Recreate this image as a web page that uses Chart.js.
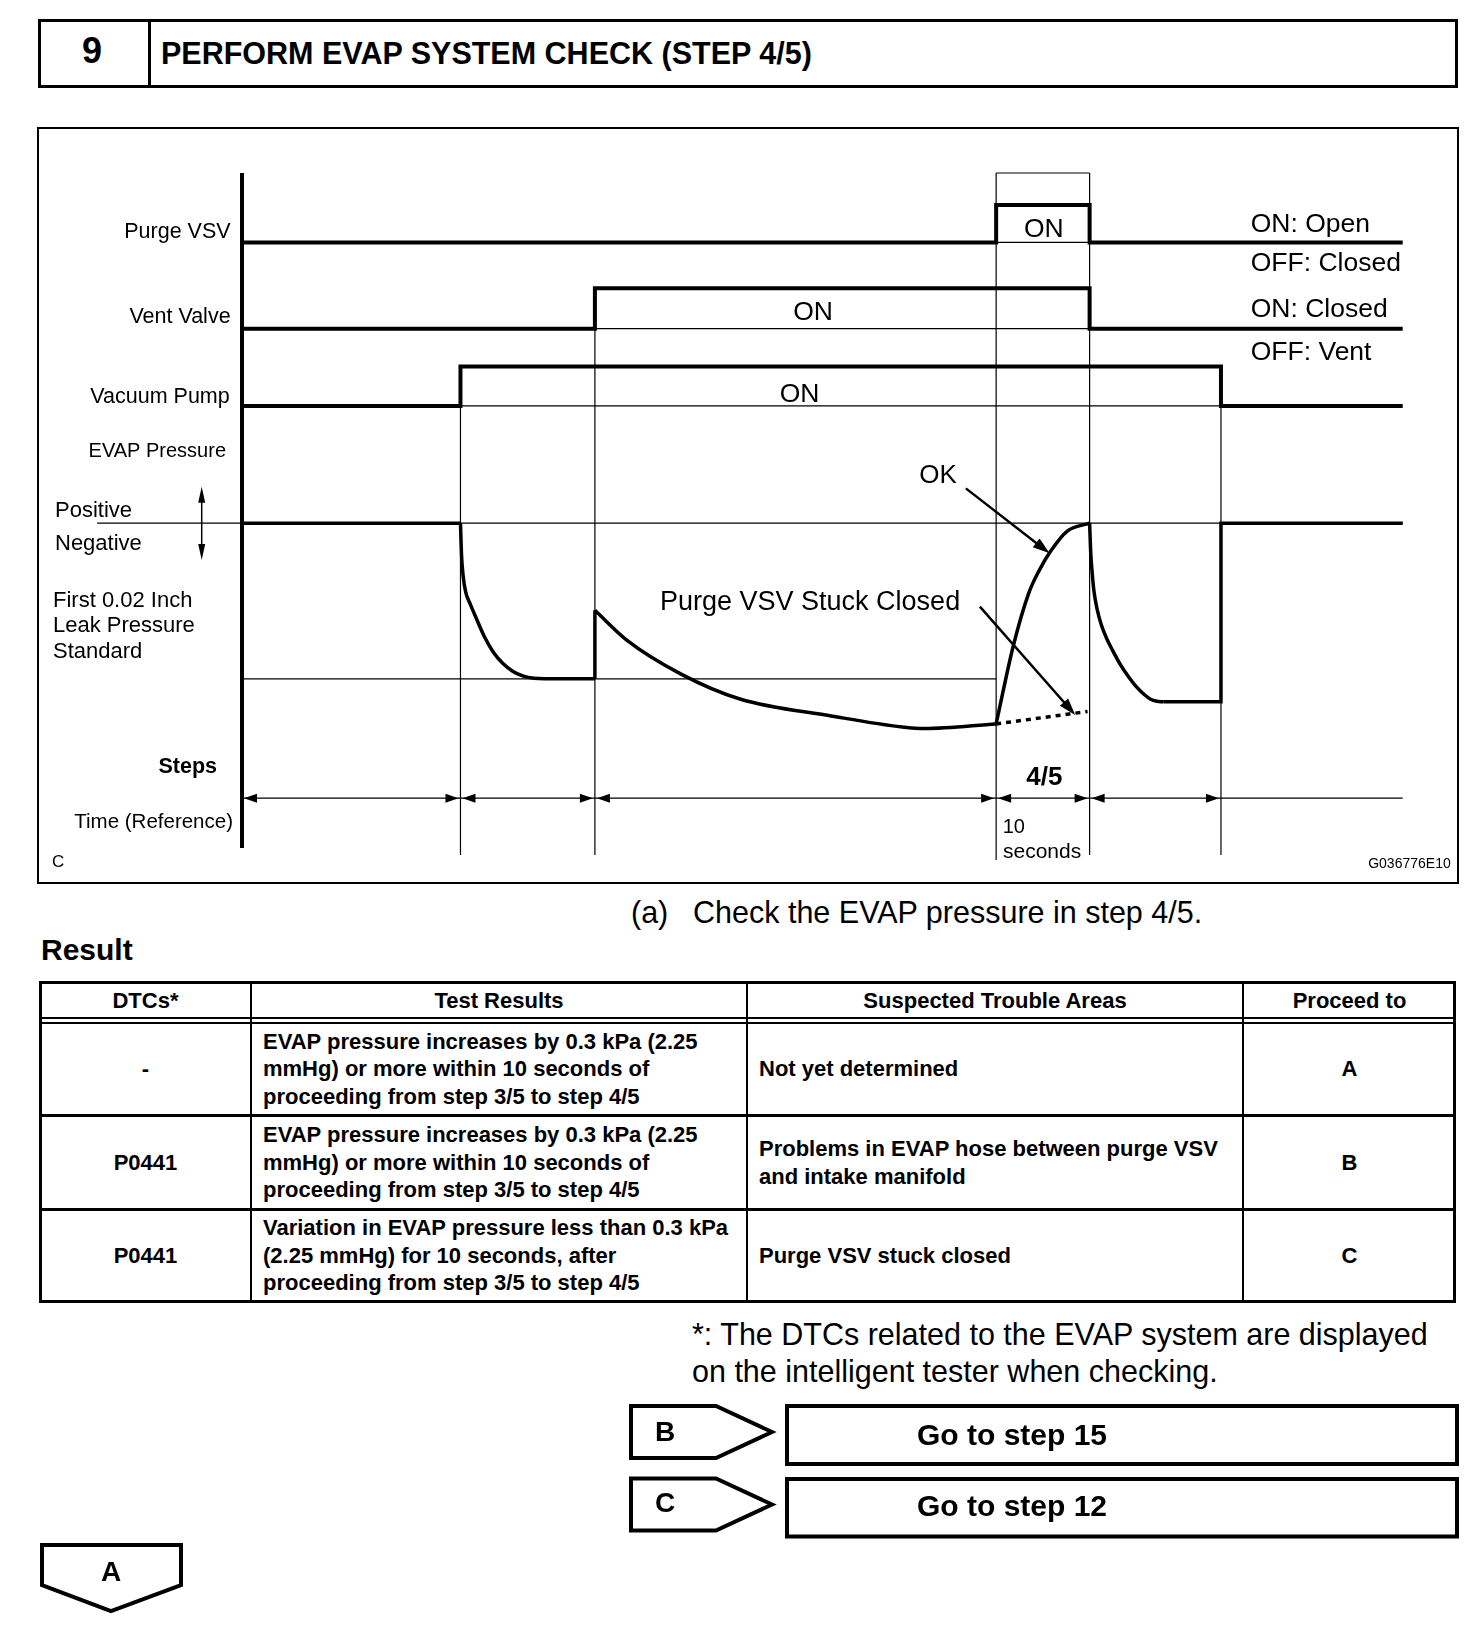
<!DOCTYPE html>
<html>
<head>
<meta charset="utf-8">
<script src="https://cdn.jsdelivr.net/npm/chart.js@4.4.1/dist/chart.umd.min.js"></script>
<style>
  body{margin:0;width:1472px;height:1648px;background:#fff;position:relative;overflow:hidden;
       font-family:"Liberation Sans",Arial,sans-serif;color:#000}
  .t{position:absolute;white-space:nowrap;line-height:1}
  .b{font-weight:bold}
  .ln{position:absolute;background:#000}
  .cell{position:absolute;display:flex;align-items:center;font-weight:bold;font-size:22px;
        line-height:27.5px;white-space:nowrap;box-sizing:border-box}
  .c{justify-content:center;text-align:center}
  .l{justify-content:flex-start;padding-left:11px}
  #box{position:absolute;left:37px;top:127px;width:1422px;height:757px;border:2px solid #000;box-sizing:border-box}
  #graf{position:absolute;left:37px;top:127px}
</style>
</head>
<body>

<!-- cabecera -->
<div style="position:absolute;left:38px;top:19px;width:1420px;height:69px;border:3px solid #000;box-sizing:border-box"></div>
<div class="ln" style="left:148px;top:19px;width:3px;height:69px"></div>
<div class="t b" style="left:42px;width:100px;text-align:center;top:33px;font-size:36px">9</div>
<div class="t b" style="left:161px;top:37.5px;font-size:30.5px">PERFORM EVAP SYSTEM CHECK (STEP 4/5)</div>

<!-- diagrama -->
<div id="box"></div>
<canvas id="graf" width="1422" height="757"></canvas>

<div class="t" style="left:631px;top:897px;font-size:30.5px">(a)</div>
<div class="t" style="left:693px;top:897px;font-size:30.5px">Check the EVAP pressure in step 4/5.</div>
<div class="t b" style="left:41px;top:935px;font-size:30px">Result</div>

<!-- tabla -->
<div style="position:absolute;left:39px;top:981px;width:1417px;height:322px;border:3px solid #000;box-sizing:border-box"></div>
<div class="ln" style="left:250px;top:981px;width:2px;height:322px"></div>
<div class="ln" style="left:746px;top:981px;width:2px;height:322px"></div>
<div class="ln" style="left:1242px;top:981px;width:2px;height:322px"></div>
<div class="ln" style="left:39px;top:1017px;width:1417px;height:2px"></div>
<div class="ln" style="left:39px;top:1022px;width:1417px;height:2px"></div>
<div class="ln" style="left:39px;top:1114px;width:1417px;height:3px"></div>
<div class="ln" style="left:39px;top:1208px;width:1417px;height:3px"></div>

<div class="cell c" style="left:41px;width:209px;top:983px;height:35px">DTCs*</div>
<div class="cell c" style="left:252px;width:494px;top:983px;height:35px">Test Results</div>
<div class="cell c" style="left:748px;width:494px;top:983px;height:35px">Suspected Trouble Areas</div>
<div class="cell c" style="left:1244px;width:211px;top:983px;height:35px">Proceed to</div>

<div class="cell c" style="left:41px;width:209px;top:1024px;height:90px">-</div>
<div class="cell l" style="left:252px;width:494px;top:1024px;height:90px">EVAP pressure increases by 0.3 kPa (2.25<br>mmHg) or more within 10 seconds of<br>proceeding from step 3/5 to step 4/5</div>
<div class="cell l" style="left:748px;width:494px;top:1024px;height:90px">Not yet determined</div>
<div class="cell c" style="left:1244px;width:211px;top:1024px;height:90px">A</div>

<div class="cell c" style="left:41px;width:209px;top:1117px;height:91px">P0441</div>
<div class="cell l" style="left:252px;width:494px;top:1117px;height:91px">EVAP pressure increases by 0.3 kPa (2.25<br>mmHg) or more within 10 seconds of<br>proceeding from step 3/5 to step 4/5</div>
<div class="cell l" style="left:748px;width:494px;top:1117px;height:91px">Problems in EVAP hose between purge VSV<br>and intake manifold</div>
<div class="cell c" style="left:1244px;width:211px;top:1117px;height:91px">B</div>

<div class="cell c" style="left:41px;width:209px;top:1211px;height:89px">P0441</div>
<div class="cell l" style="left:252px;width:494px;top:1211px;height:89px">Variation in EVAP pressure less than 0.3 kPa<br>(2.25 mmHg) for 10 seconds, after<br>proceeding from step 3/5 to step 4/5</div>
<div class="cell l" style="left:748px;width:494px;top:1211px;height:89px">Purge VSV stuck closed</div>
<div class="cell c" style="left:1244px;width:211px;top:1211px;height:89px">C</div>

<div class="t" style="left:692px;top:1319px;font-size:30.5px">*: The DTCs related to the EVAP system are displayed</div>
<div class="t" style="left:692px;top:1355.5px;font-size:30.5px">on the intelligent tester when checking.</div>

<!-- cajas de salto -->
<svg style="position:absolute;left:0;top:0" width="1472" height="1648">
  <g fill="none" stroke="#000" stroke-width="4" stroke-linejoin="miter">
    <polygon points="631,1406 716,1406 772,1432 716,1458 631,1458"/>
    <rect x="787" y="1406" width="670" height="58"/>
    <polygon points="631,1478.5 716,1478.5 772,1504.5 716,1530.5 631,1530.5"/>
    <rect x="787" y="1479" width="670" height="57.5"/>
    <polygon points="42,1545 181,1545 181,1585 111,1611 42,1585"/>
  </g>
</svg>
<div class="t b" style="left:655px;top:1418px;font-size:28px">B</div>
<div class="t b" style="left:917px;top:1420px;font-size:30px">Go to step 15</div>
<div class="t b" style="left:655px;top:1489px;font-size:28px">C</div>
<div class="t b" style="left:917px;top:1491px;font-size:30px">Go to step 12</div>
<div class="t b" style="left:61px;width:100px;text-align:center;top:1558px;font-size:28px">A</div>

<script>
// tiempos de cada paso (s, referencia): 10 s = paso 4/5
const stepTimes = [0, 23.37, 37.75, 80.67, 90.67, 104.72, 124.16];
// estado ON(1)/OFF(0) en cada intervalo
const purgeVsv   = [0, 0, 0, 1, 0, 0];
const ventValve  = [0, 0, 1, 1, 0, 0];
const vacuumPump = [0, 1, 1, 1, 1, 0];

// presion EVAP relativa (0 = atmosferica, -1 = estandar de fuga 0.02 in)
const pressT0 = [0, 23.37];
const pressP0 = [0, 0];
const pressT2 = [23.37, 23.48, 23.65, 23.93, 24.44, 25.06, 25.95, 26.85, 27.86, 28.99, 30.11, 31.24, 32.36, 37.75];
const pressP2 = [0, -0.201, -0.336, -0.443, -0.523, -0.611, -0.732, -0.826, -0.899, -0.953, -0.983, -0.997, -1.0, -1.0];
const jumpT = [37.75, 37.75];
const jumpP = [-1.0, -0.56];
const pressT3 = [37.75, 41.12, 46.97, 53.26, 63.15, 70.62, 73.03, 80.67];
const pressP3 = [-0.56, -0.75, -0.97, -1.13, -1.24, -1.31, -1.32, -1.29];
const okT = [80.67, 82.47, 84.15, 85.28, 86.51, 88.25, 90.67];
const okP = [-1.29, -0.797, -0.451, -0.303, -0.179, -0.052, 0];
const stuckT = [80.67, 90.45];
const stuckP = [-1.29, -1.21];
const pressT5 = [90.67, 90.78, 90.95, 91.12, 91.46, 91.91, 92.47, 93.14, 93.93, 94.83, 95.61, 96.51, 97.19, 97.86, 98.54];
const pressP5 = [0, -0.181, -0.322, -0.430, -0.550, -0.651, -0.738, -0.819, -0.906, -0.987, -1.047, -1.101, -1.131, -1.144, -1.148];
const pressT6 = [98.54, 104.72, 104.72, 124.16];
const pressP6 = [-1.148, -1.148, 0, 0];

// ubicacion vertical de cada fila del diagrama (unidades del eje y)
const lay = { top: 640, purge: 574, purgeH: 35.5, vent: 492, ventH: 38.5, pump: 418.5, pumpH: 37.5,
              pZero: 307, pUnit: 148, steps: 45.5, bottom: -8.6 };

const page = { x: 37, y: 127 };
const FONT = '"Liberation Sans", Arial, sans-serif';

function escalon(estados, base, alto) {
  const pts = estados.map((s, i) => ({ x: stepTimes[i], y: base + s * alto }));
  pts.push({ x: stepTimes[stepTimes.length - 1], y: base + estados[estados.length - 1] * alto });
  return pts;
}
function presion(ts, ps) {
  return ts.map((t, i) => ({ x: t, y: lay.pZero + ps[i] * lay.pUnit }));
}
function grueso(data, extra) {
  return Object.assign({ data: data, showLine: true, borderColor: '#000', borderWidth: 4, pointRadius: 0,
    clip: false, order: 1, borderJoinStyle: 'miter', borderCapStyle: 'butt' }, extra || {});
}
function fino(x1, y1, x2, y2) {
  return { data: [{ x: x1, y: y1 }, { x: x2, y: y2 }], showLine: true, borderColor: '#000', borderWidth: 1.2,
    pointRadius: 0, clip: false, order: 3 };
}

const tEnd = stepTimes[stepTimes.length - 1];
const curva = { cubicInterpolationMode: 'monotone', borderWidth: 3.5, borderJoinStyle: 'round' };
const recta = { borderWidth: 3.5 };

const datasets = [
  grueso(escalon(purgeVsv, lay.purge, lay.purgeH), { stepped: true }),
  grueso(escalon(ventValve, lay.vent, lay.ventH), { stepped: true }),
  grueso(escalon(vacuumPump, lay.pump, lay.pumpH), { stepped: true }),
  grueso([{ x: 0, y: -2 }, { x: 0, y: lay.top }], { borderWidth: 4 }),
  grueso(presion(pressT0, pressP0), recta),
  grueso(presion(pressT2, pressP2), curva),
  grueso(presion(jumpT, jumpP), recta),
  grueso(presion(pressT3, pressP3), curva),
  grueso(presion(okT, okP), curva),
  grueso(presion(stuckT, stuckP), { borderWidth: 3.5, borderDash: [5, 5] }),
  grueso(presion(pressT5, pressP5), curva),
  grueso(presion(pressT6, pressP6), recta),
  // lineas finas de referencia
  fino(-15.5, lay.pZero, tEnd, lay.pZero),
  fino(0, lay.pZero - lay.pUnit, stepTimes[3], lay.pZero - lay.pUnit),
  fino(stepTimes[3], lay.top, stepTimes[4], lay.top),
  fino(stepTimes[3], lay.purge, stepTimes[4], lay.purge),
  fino(stepTimes[2], lay.vent, stepTimes[4], lay.vent),
  fino(stepTimes[1], lay.pump, stepTimes[5], lay.pump),
  fino(stepTimes[1], lay.bottom, stepTimes[1], lay.pump + lay.pumpH),
  fino(stepTimes[2], lay.bottom, stepTimes[2], lay.vent + lay.ventH),
  fino(stepTimes[3], lay.bottom - 4.7, stepTimes[3], lay.top),
  fino(stepTimes[4], lay.bottom, stepTimes[4], lay.top),
  fino(stepTimes[5], lay.bottom, stepTimes[5], lay.pump + lay.pumpH),
  fino(0, lay.steps, tEnd, lay.steps)
];

function punta(ctx, x, y, ang, len, half) {
  ctx.save();
  ctx.translate(x, y);
  ctx.rotate(ang);
  ctx.beginPath();
  ctx.moveTo(0, 0);
  ctx.lineTo(-len, -half);
  ctx.lineTo(-len, half);
  ctx.closePath();
  ctx.fill();
  ctx.restore();
}
function flecha(ctx, x1, y1, x2, y2, ancho) {
  ctx.lineWidth = ancho;
  ctx.beginPath();
  ctx.moveTo(x1, y1);
  ctx.lineTo(x2, y2);
  ctx.stroke();
}
function txt(ctx, s, x, y, font, align) {
  ctx.font = font;
  ctx.textAlign = align || 'left';
  ctx.textBaseline = 'alphabetic';
  ctx.fillText(s, x - page.x, y - page.y);
}

const textos = {
  id: 'textos',
  afterDatasetsDraw(chart) {
    const ctx = chart.ctx;
    const sx = chart.scales.x, sy = chart.scales.y;
    ctx.save();
    ctx.fillStyle = '#000';
    ctx.strokeStyle = '#000';

    // flechas de pasos
    const yS = sy.getPixelForValue(lay.steps);
    for (let i = 0; i < 5; i++) {
      const a = sx.getPixelForValue(stepTimes[i]);
      const b = sx.getPixelForValue(stepTimes[i + 1]);
      punta(ctx, a + 2, yS, Math.PI, 13, 4.5);
      punta(ctx, b - 2, yS, 0, 13, 4.5);
    }

    // flecha positivo / negativo
    const xa = sx.getPixelForValue(-4.31);
    const ya1 = sy.getPixelForValue(341.7), ya2 = sy.getPixelForValue(272);
    flecha(ctx, xa, ya1 + 8, xa, ya2 - 8, 1.5);
    punta(ctx, xa, ya1, -Math.PI / 2, 16, 3.5);
    punta(ctx, xa, ya2, Math.PI / 2, 16, 3.5);

    // flechas OK y Stuck Closed
    const flechas = [[77.43, 340.1, 86.39, 278.3], [78.93, 227.6, 89.13, 124.6]];
    flechas.forEach(f => {
      const x1 = sx.getPixelForValue(f[0]), y1 = sy.getPixelForValue(f[1]);
      const x2 = sx.getPixelForValue(f[2]), y2 = sy.getPixelForValue(f[3]);
      const ang = Math.atan2(y2 - y1, x2 - x1);
      flecha(ctx, x1, y1, x2 - Math.cos(ang) * 10, y2 - Math.sin(ang) * 10, 2.5);
      punta(ctx, x2, y2, ang, 17, 5.5);
    });

    const f = (px, b) => (b ? 'bold ' : '') + px + 'px ' + FONT;
    txt(ctx, 'Purge VSV', 230.6, 238.3, f(21.5), 'right');
    txt(ctx, 'Vent Valve', 230.6, 323.3, f(21.5), 'right');
    txt(ctx, 'Vacuum Pump', 229.7, 403, f(21.5), 'right');
    txt(ctx, 'EVAP Pressure', 226, 457, f(20), 'right');
    txt(ctx, 'Positive', 55, 516.7, f(22));
    txt(ctx, 'Negative', 55, 550, f(22));
    txt(ctx, 'First 0.02 Inch', 53, 606.7, f(22));
    txt(ctx, 'Leak Pressure', 53, 632, f(22));
    txt(ctx, 'Standard', 53, 658, f(22));
    txt(ctx, 'Steps', 217, 773, f(21.5, true), 'right');
    txt(ctx, 'Time (Reference)', 233, 828, f(20.5), 'right');
    txt(ctx, 'C', 52, 867, f(17));
    txt(ctx, 'G036776E10', 1450.7, 868, f(14), 'right');

    txt(ctx, 'ON: Open', 1250.7, 231.7, f(26.5));
    txt(ctx, 'OFF: Closed', 1250.7, 271, f(26.5));
    txt(ctx, 'ON: Closed', 1250.7, 316.7, f(26.5));
    txt(ctx, 'OFF: Vent', 1250.7, 360, f(26.5));

    txt(ctx, 'ON', 1043.8, 236.7, f(26.5), 'center');
    txt(ctx, 'ON', 813, 320, f(26.5), 'center');
    txt(ctx, 'ON', 799.5, 401.7, f(26.5), 'center');
    txt(ctx, 'OK', 938, 483.3, f(26), 'center');
    txt(ctx, 'Purge VSV Stuck Closed', 660, 610, f(27));
    txt(ctx, '4/5', 1044.4, 785, f(26, true), 'center');
    txt(ctx, '10', 1002.7, 833, f(20));
    txt(ctx, 'seconds', 1003, 858, f(21));
    ctx.restore();
  }
};

new Chart(document.getElementById('graf').getContext('2d'), {
  type: 'scatter',
  data: { datasets: datasets },
  options: {
    responsive: false,
    animation: false,
    devicePixelRatio: 1,
    events: [],
    layout: { padding: { left: 205, right: 56.3, top: 46, bottom: 38 } },
    plugins: { legend: { display: false }, tooltip: { enabled: false } },
    scales: {
      x: { type: 'linear', display: false, min: 0, max: tEnd },
      y: { type: 'linear', display: false, min: 0, max: lay.top }
    }
  },
  plugins: [textos]
});
</script>
</body>
</html>
